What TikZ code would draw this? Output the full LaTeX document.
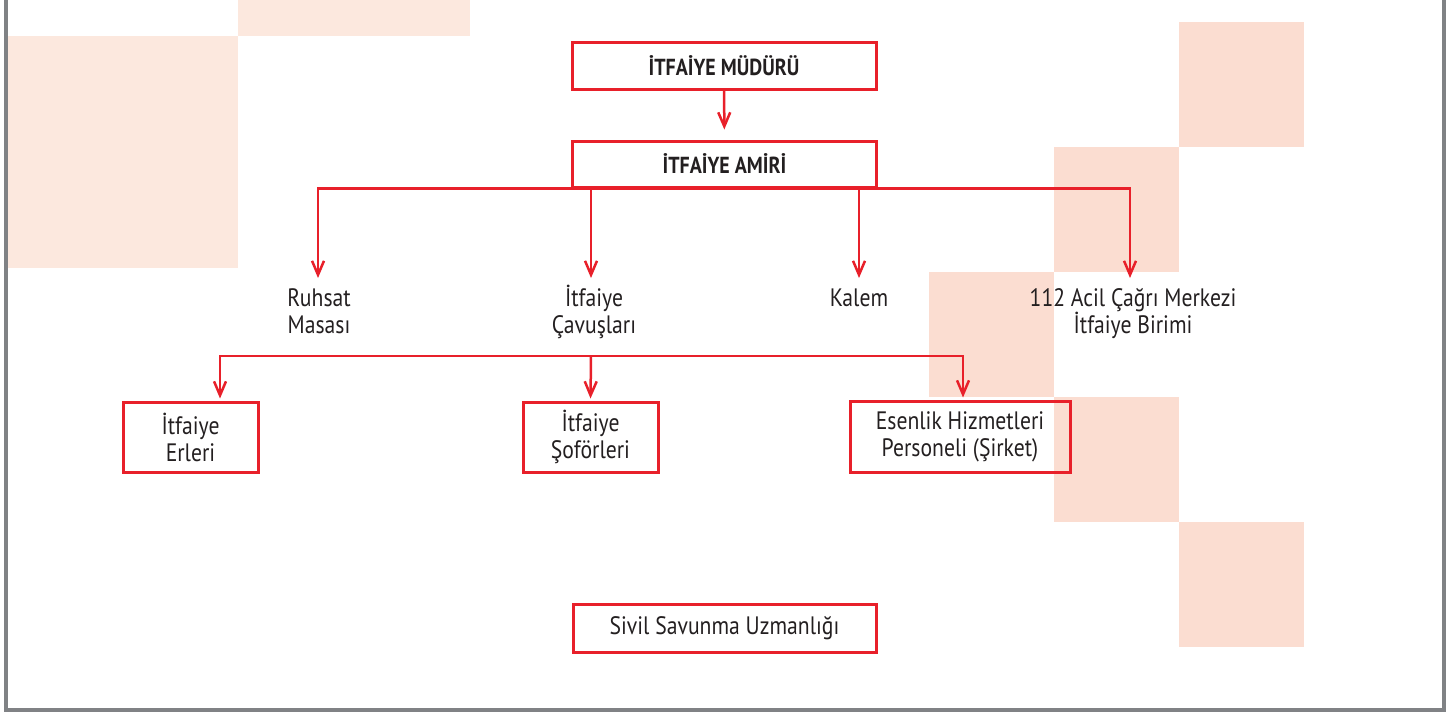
\documentclass[tikz,border=0pt]{standalone}
\usepackage{fontspec}
\setmainfont[FakeStretch=0.86]{PT Sans}
\usetikzlibrary{arrows.meta}
\definecolor{redl}{HTML}{E8202A}
\definecolor{peachA}{HTML}{FCE8DE}
\definecolor{peachB}{HTML}{FBDDD1}
\definecolor{txt}{HTML}{231F20}
\definecolor{framec}{HTML}{808285}
\newcommand{\fstrut}{\rule{0pt}{12pt}}
\begin{document}
\begin{tikzpicture}[x=0.5pt,y=-0.5pt,
  box/.style={draw=redl,line width=1.5pt,text=txt,align=center,inner sep=0pt,font=\fontsize{12.6}{13.5}\selectfont},
  titlebox/.style={box,font=\fontsize{11.6}{13}\selectfont\bfseries},
  plain/.style={text=txt,align=center,inner sep=0pt,anchor=north,font=\fontsize{12.6}{13.5}\selectfont},
  arr/.style={draw=redl,line width=1.25pt,-{Straight Barb[length=7pt,width=6pt,line width=1.25pt]}},
]
\useasboundingbox (0,0) rectangle (1451,712);
% background squares
\fill[peachA] (238,0) rectangle (470,36);
\fill[peachA] (8,36) rectangle (238,268);
\fill[peachB] (1179,22) rectangle (1304,147);
\fill[peachB] (1054,147) rectangle (1179,272);
\fill[peachB] (929,272) rectangle (1054,397);
\fill[peachB] (1054,397) rectangle (1179,522);
\fill[peachB] (1179,522) rectangle (1304,647);
% frame
\draw[framec,line width=2pt] (6,0) -- (6,710) -- (1444,710) -- (1444,0);
% nodes
\node[titlebox,minimum width=152pt,minimum height=23.5pt] (mudur) at (724,65.5) {İTFAİYE MÜDÜRÜ};
\node[titlebox,minimum width=152pt,minimum height=23pt] (amiri) at (724.5,164) {İTFAİYE AMİRİ};
\node[plain] (ruhsat) at (319,282) {\fstrut Ruhsat\\Masası};
\node[plain] (cavus) at (594,282) {\fstrut İtfaiye\\Çavuşları};
\node[plain] (kalem) at (859,282) {\fstrut Kalem};
\node[plain] (acil) at (1133,282) {\fstrut 112 Acil Çağrı Merkezi\\İtfaiye Birimi};
\node[box,minimum width=67.5pt,minimum height=35pt] (erleri) at (190.5,437) {İtfaiye\\Erleri};
\node[box,minimum width=67.5pt,minimum height=35pt] (sofor) at (590.5,437) {İtfaiye\\Şoförleri};
\node[box,minimum width=110pt,minimum height=35.5pt] (esenlik) at (960,436.5) {Esenlik Hizmetleri\\Personeli (Şirket)};
\node[box,minimum width=151.5pt,minimum height=24pt] (sivil) at (724.5,628) {Sivil Savunma Uzmanlığı};
% connectors
\draw[arr,shorten >=5pt] (mudur) -- (amiri);
\draw[arr,shorten >=2pt] (amiri.south) -| ([xshift=-0.5pt]ruhsat.north);
\draw[arr,shorten >=2pt] (amiri.south -| {591,0}) -- (cavus.north -| {591,0});
\draw[arr,shorten >=2pt] (amiri.south -| kalem.north) -- (kalem.north);
\draw[arr,shorten >=2pt] (amiri.south) -| ([xshift=-1.5pt]acil.north);
\coordinate (bus) at (591,356);
\draw[arr,shorten >=1pt] (bus) -| ([xshift=14.75pt]erleri.north);
\draw[arr,shorten >=1pt] (bus) -- (sofor.north);
\draw[arr,shorten >=1pt] (bus) -| ([xshift=1.5pt]esenlik.north);
\end{tikzpicture}
\end{document}
